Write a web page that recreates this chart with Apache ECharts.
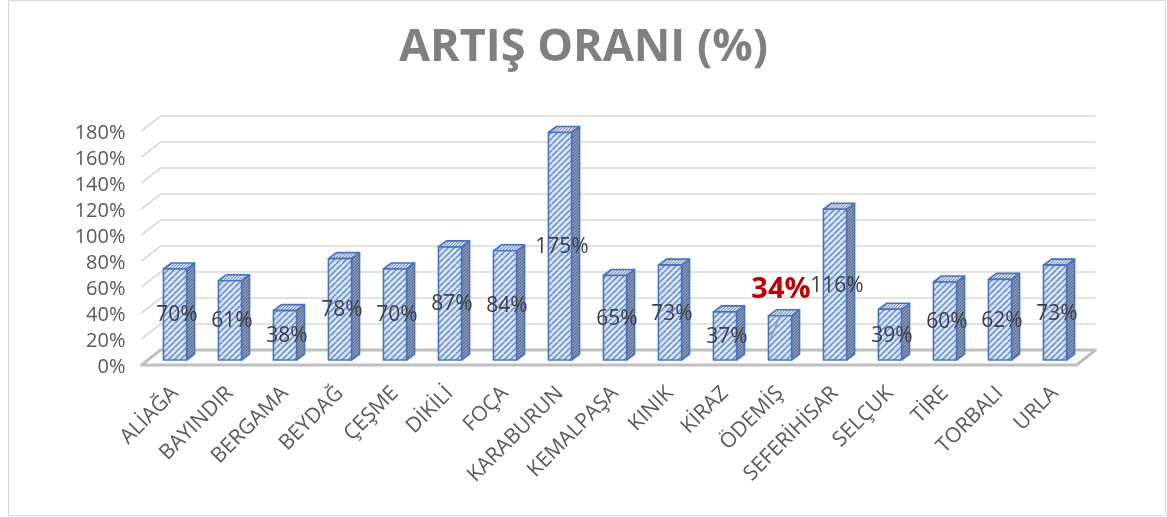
<!DOCTYPE html>
<html>
<head>
<meta charset="utf-8">
<script src="https://cdn.jsdelivr.net/npm/echarts@6/dist/echarts.min.js"></script>
<style>
  html, body { margin: 0; padding: 0; background: #fff; }
  #chart { width: 1167px; height: 517px; }
</style>
</head>
<body>
<div id="chart"></div>
<script>
// Artış oranı (%) – ilçelere göre, Excel'in 3B çubuk grafiği taklit ediliyor
const CATEGORIES = ['ALİAĞA', 'BAYINDIR', 'BERGAMA', 'BEYDAĞ', 'ÇEŞME', 'DİKİLİ', 'FOÇA', 'KARABURUN',
  'KEMALPAŞA', 'KINIK', 'KİRAZ', 'ÖDEMİŞ', 'SEFERİHİSAR', 'SELÇUK', 'TİRE', 'TORBALI', 'URLA']
const RATES = [70, 61, 38, 78, 70, 87, 84, 175, 65, 73, 37, 34, 116, 39, 60, 62, 73]
const Y_TICKS = [0, 20, 40, 60, 80, 100, 120, 140, 160, 180]
const HIGHLIGHT = 'ÖDEMİŞ'

const FONT = '"Open Sans", "Liberation Sans", sans-serif'
// derinlik kaydırmaları (px): çubuk düzlemine göre
const BAR_D = [8, -6]      // çubuğun kendi derinliği
const BACK = [13, -10]     // arka duvar
const FRONT = [-6, 5]      // zeminin ön kenarı

function stripes(bg, fg, size, lw) {
  const c = document.createElement('canvas')
  c.width = size; c.height = size
  const g = c.getContext('2d')
  g.fillStyle = bg; g.fillRect(0, 0, size, size)
  g.strokeStyle = fg; g.lineWidth = lw
  for (const k of [-size, 0, size]) {
    g.beginPath(); g.moveTo(k, size); g.lineTo(k + size, 0); g.stroke()
  }
  return { image: c, repeat: 'repeat' }
}
const frontFill = stripes('#dce6f6', '#6b93d9', 6, 1.6)
const sideFill = stripes('#8a96b0', '#5d6b8a', 3, 1)
const topFill = stripes('#cdd5e6', '#8794b3', 3, 1)

function renderGrid(params, api) {
  const cs = params.coordSys
  const v = api.value(1)
  const y = api.coord([0, v])[1]
  const L = cs.x, R = cs.x + cs.width
  const kids = [{
    type: 'polyline',
    shape: { points: [[L + FRONT[0], y + FRONT[1]], [L + BACK[0], y + BACK[1]], [R + BACK[0], y + BACK[1]]] },
    style: { stroke: '#d9d9d9', lineWidth: 1.6, fill: null }
  }]
  if (v === 0) {
    kids.push({
      type: 'polygon',
      shape: { points: [[L + FRONT[0], y + FRONT[1]], [R + FRONT[0], y + FRONT[1]],
        [R + BACK[0], y + BACK[1]], [L + BACK[0], y + BACK[1]]] },
      style: { stroke: '#bfbfbf', lineWidth: 3, fill: null, lineJoin: 'round' }
    })
  }
  return { type: 'group', children: kids }
}

function renderBar(params, api) {
  const i = api.value(0), v = api.value(1)
  const top = api.coord([i, v]), base = api.coord([i, 0])
  const w = api.size([1, 0])[0] * 0.42
  const x0 = top[0] - w / 2, x1 = top[0] + w / 2
  const yt = top[1], yb = base[1]
  const [dx, dy] = BAR_D
  const edge = { stroke: '#4472c4', lineWidth: 1.6, lineJoin: 'round' }
  const kids = [
    { type: 'polygon', shape: { points: [[x1, yb], [x1 + dx, yb + dy], [x1 + dx, yt + dy], [x1, yt]] },
      style: Object.assign({ fill: sideFill }, edge) },
    { type: 'polygon', shape: { points: [[x0, yt], [x0 + dx, yt + dy], [x1 + dx, yt + dy], [x1, yt]] },
      style: Object.assign({ fill: topFill }, edge) },
    { type: 'rect', shape: { x: x0, y: yt, width: w, height: yb - yt },
      style: Object.assign({ fill: frontFill }, edge) }
  ]
  const mid = (yt + yb) / 2
  if (CATEGORIES[i] === HIGHLIGHT) {
    kids.push({ type: 'line', shape: { x1: top[0] - 9, y1: mid, x2: top[0] + 1, y2: yt - 3 },
      style: { stroke: '#9a9a9a', lineWidth: 1.5 } })
    kids.push({ type: 'text', style: { text: v + '%', x: top[0] + 1, y: yt - 26,
      fill: '#c00000', fontSize: 29, fontWeight: 'bold', fontFamily: FONT, align: 'center', verticalAlign: 'middle' } })
  } else {
    kids.push({ type: 'text', style: { text: v + '%', x: top[0] + 2, y: mid + 1,
      fill: '#404040', fontSize: 21, fontFamily: FONT, align: 'center', verticalAlign: 'middle' } })
  }
  return { type: 'group', children: kids }
}

const chart = echarts.init(document.getElementById('chart'))
chart.setOption({
  animation: false,
  title: {
    text: 'ARTIŞ ORANI (%)', left: 'center', top: 21,
    textStyle: { fontFamily: FONT, fontSize: 45, fontWeight: 'bold', color: '#808080' }
  },
  graphic: [{ type: 'rect', shape: { x: 8.5, y: 0.5, width: 1157, height: 515 },
    style: { fill: null, stroke: '#d9d9d9', lineWidth: 1 }, silent: true }],
  grid: { left: 147.5, right: 84.5, top: 126, bottom: 157 },
  xAxis: {
    type: 'category', data: CATEGORIES,
    axisLine: { show: false }, axisTick: { show: false },
    axisLabel: { interval: 0, rotate: 45, margin: 30, fontSize: 21, color: '#595959', fontFamily: FONT }
  },
  yAxis: {
    type: 'value', min: 0, max: 180, interval: 20,
    splitLine: { show: false }, axisLine: { show: false }, axisTick: { show: false },
    axisLabel: { formatter: '{value}%', margin: 22, fontSize: 20, color: '#595959', fontFamily: FONT,
      verticalAlign: 'top', lineHeight: 14 }
  },
  series: [
    { type: 'custom', z: 1, renderItem: renderGrid, data: Y_TICKS.map(t => [0, t]), silent: true },
    { type: 'custom', z: 2, renderItem: renderBar, data: RATES.map((r, i) => [i, r]) }
  ]
})
</script>
</body>
</html>
